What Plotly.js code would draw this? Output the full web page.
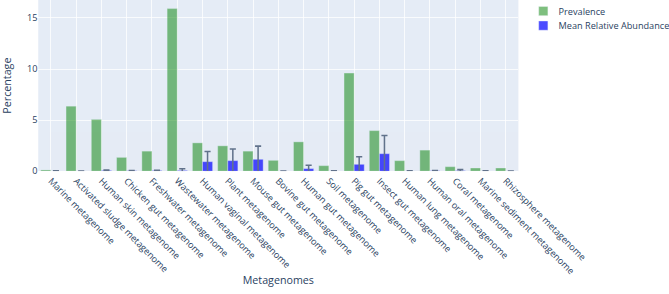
<!DOCTYPE html>
<html>
<head>
<meta charset="utf-8">
<script src="https://cdn.plot.ly/plotly-3.0.1.min.js"></script>
<style>
html,body{margin:0;padding:0;background:#fff;width:669px;height:294px;overflow:hidden;}
#chart{width:875px;height:384px;transform:scale(0.7646);transform-origin:0 0;}
</style>
</head>
<body>
<div id="chart"></div>
<script>
const categories = [
  "Marine metagenome", "Activated sludge metagenome", "Human skin metagenome",
  "Chicken gut metagenome", "Freshwater metagenome", "Wastewater metagenome",
  "Human vaginal metagenome", "Plant metagenome", "Mouse gut metagenome",
  "Bovine gut metagenome", "Human gut metagenome", "Soil metagenome",
  "Pig gut metagenome", "Insect gut metagenome", "Human lung metagenome",
  "Human oral metagenome", "Coral metagenome", "Marine sediment metagenome",
  "Rhizosphere metagenome"
];
const prevalence = [0.13, 6.37, 5.08, 1.36, 1.97, 15.92, 2.78, 2.49, 1.97, 1.07, 2.88, 0.55, 9.61, 3.98, 1.04, 2.07, 0.45, 0.32, 0.32];
const meanAbundance = [0.02, 0.01, 0.08, 0.05, 0.07, 0.08, 0.94, 1.04, 1.17, 0.01, 0.26, 0.02, 0.68, 1.72, 0.02, 0.05, 0.06, 0.02, 0.01];
const abundanceError = [0.02, 0.01, 0.04, 0.03, 0.04, 0.16, 1.0, 1.13, 1.29, 0.01, 0.32, 0.02, 0.74, 1.78, 0.02, 0.03, 0.1, 0.02, 0.01];
const yRange = [0, 16.76];

const lineStyle = {color: '#E5ECF6', width: 0.5};
const traces = [
  {
    type: 'bar', name: 'Prevalence', x: categories, y: prevalence,
    marker: {color: 'green', line: lineStyle}, opacity: 0.5
  },
  {
    type: 'bar', name: 'Mean Relative Abundance', x: categories, y: meanAbundance,
    marker: {color: 'blue', line: lineStyle}, opacity: 0.7,
    error_y: {type: 'data', array: abundanceError, visible: true, color: '#2a3f5f', thickness: 2, width: 4}
  }
];

const layout = {
  width: 875, height: 384,
  margin: {l: 50, r: 197, t: 0, b: 160, autoexpand: false},
  paper_bgcolor: '#fff', plot_bgcolor: '#E5ECF6',
  font: {family: '"Open Sans", verdana, arial, sans-serif', size: 12, color: '#2a3f5f'},
  barmode: 'group',
  xaxis: {
    title: {text: 'Metagenomes'}, tickangle: 45,
    gridcolor: 'white', linecolor: 'white', automargin: false
  },
  yaxis: {
    title: {text: 'Percentage'}, gridcolor: 'white', zerolinecolor: 'white',
    zerolinewidth: 2, automargin: false, range: yRange, tickvals: [0, 5, 10, 15]
  },
  showlegend: true
};

Plotly.newPlot('chart', traces, layout, {displayModeBar: false});
</script>
</body>
</html>
